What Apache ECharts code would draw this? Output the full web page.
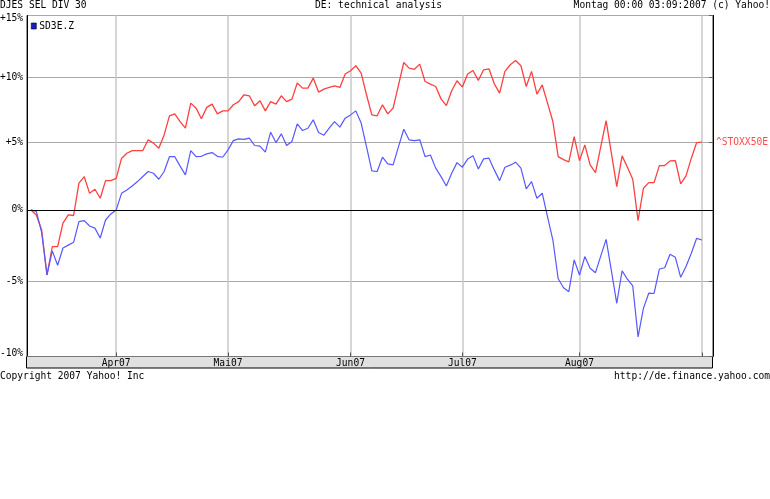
<!DOCTYPE html>
<html>
<head>
<meta charset="utf-8">
<script src="https://cdn.jsdelivr.net/npm/echarts@6/dist/echarts.min.js"></script>
<style>
html,body{margin:0;padding:0;background:#fff;}
#chart{width:770px;height:499px;}
</style>
</head>
<body>
<div id="chart"></div>
<script>
// Percent change vs. start, one value per trading day (2007-03-09 .. 2007-09-03)
const stoxx50e = [
  0, -0.36, -1.43, -4.57, -2.6, -2.6, -0.94, -0.35, -0.4, 1.94,
  2.42, 1.2, 1.5, 0.84, 2.13, 2.13, 2.3, 3.77, 4.16, 4.36,
  4.36, 4.36, 5.17, 4.92, 4.54, 5.54, 7.0, 7.15, 6.56, 6.05,
  7.98, 7.59, 6.77, 7.65, 7.9, 7.15, 7.38, 7.38, 7.85, 8.1,
  8.63, 8.55, 7.77, 8.16, 7.38, 8.1, 7.9, 8.55, 8.1, 8.29,
  9.55, 9.15, 9.15, 9.94, 8.84, 9.07, 9.2, 9.33, 9.2, 10.26,
  10.52, 10.92, 10.34, 8.63, 7.07, 7.0, 7.85, 7.15, 7.6, 9.36,
  11.18, 10.73, 10.64, 11.05, 9.67, 9.46, 9.28, 8.31, 7.79, 8.94,
  9.73, 9.23, 10.26, 10.54, 9.75, 10.6, 10.68, 9.49, 8.76, 10.47,
  11.0, 11.34, 10.92, 9.28, 10.47, 8.68, 9.4, 7.98, 6.56, 3.91,
  3.68, 3.52, 5.41, 3.6, 4.79, 3.29, 2.72, 4.66, 6.63, 4.13,
  1.69, 3.96, 3.12, 2.23, -0.77, 1.57, 1.98, 1.98, 3.24, 3.24,
  3.59, 3.6, 1.89, 2.48, 3.79, 4.96, 4.99
];
const sd3ez = [
  0, -0.1, -1.6, -4.57, -2.9, -3.9, -2.7, -2.5, -2.3, -0.84,
  -0.77, -1.15, -1.3, -2.0, -0.72, -0.29, 0, 1.2, 1.45, 1.74,
  2.06, 2.43, 2.8, 2.67, 2.23, 2.8, 3.9, 3.9, 3.2, 2.55,
  4.36, 3.9, 3.93, 4.11, 4.21, 3.93, 3.86, 4.41, 5.11, 5.24,
  5.2, 5.3, 4.74, 4.7, 4.24, 5.75, 4.96, 5.62, 4.74, 5.04,
  6.38, 5.87, 6.05, 6.69, 5.72, 5.52, 6.05, 6.56, 6.13, 6.82,
  7.07, 7.38, 6.44, 4.66, 2.85, 2.8, 3.86, 3.37, 3.29, 4.64,
  5.97, 5.17, 5.11, 5.17, 3.91, 4.03, 3.05, 2.42, 1.74, 2.67,
  3.46, 3.12, 3.72, 3.98, 2.99, 3.74, 3.79, 2.92, 2.13, 3.12,
  3.27, 3.49, 3.05, 1.52, 2.06, 0.84, 1.21, -0.5, -2.14, -4.83,
  -5.44, -5.71, -3.53, -4.57, -3.3, -4.11, -4.41, -3.25, -2.09, -4.31,
  -6.49, -4.29, -4.86, -5.32, -8.72, -6.83, -5.81, -5.83, -4.16, -4.07,
  -3.14, -3.35, -4.73, -3.99, -3.07, -2.02, -2.14
];
const pctTicks = [-10, -5, 0, 5, 10, 15];
const monthStartIdx = [16, 37, 60, 81, 103, 126];
const monthLabels = ['Apr07', 'Mai07', 'Jun07', 'Jul07', 'Aug07', ''];

const FONT = 'DejaVu Sans Mono';
const FS = 9.6;
const toLog = p => Math.log(1 + p / 100);
const fromLog = v => Math.round((Math.exp(v) - 1) * 100);
const pctLabel = v => { const p = fromLog(v); return (p > 0 ? '+' : '') + p + '%'; };
const yTickVals = pctTicks.map(toLog);

const chart = echarts.init(document.getElementById('chart'), null, {renderer: 'canvas'});
const txt = {fontFamily: FONT, fontSize: FS, color: '#000', fontWeight: 'normal'};

chart.setOption({
  animation: false,
  backgroundColor: '#fff',
  title: [
    {text: 'DJES SEL DIV 30', left: 0, top: 0, padding: 0, textStyle: txt},
    {text: 'DE: technical analysis', left: 315, top: 0, padding: 0, textStyle: txt},
    {text: 'Montag 00:00 03:09:2007 (c) Yahoo!', right: 0, top: 0, padding: 0, textStyle: txt},
    {text: 'Copyright 2007 Yahoo! Inc', left: 0, top: 371, padding: 0, textStyle: txt},
    {text: 'http://de.finance.yahoo.com', right: 0, top: 371, padding: 0, textStyle: txt}
  ],
  legend: {
    data: ['SD3E.Z'],
    left: 31, top: 21, padding: 0,
    icon: 'rect', itemWidth: 5, itemHeight: 6, itemGap: 2,
    itemStyle: {color: '#1a1ad0', borderColor: '#000', borderWidth: 0.6},
    textStyle: {fontFamily: FONT, fontSize: FS, color: '#000', padding: [0, 0, 0, -2]}
  },
  graphic: [
    {type: 'rect', z: 0, shape: {x: 26.5, y: 356.5, width: 686, height: 11.5},
     style: {fill: '#e0e0e0', stroke: '#000', lineWidth: 1}}
  ],
  grid: {left: 27, right: 57, top: 15.5, bottom: 142.5, show: true,
         outerBoundsMode: 'none', containLabel: false,
         borderColor: '#333', borderWidth: 1, backgroundColor: '#fff'},
  xAxis: {
    type: 'value', min: -0.751, max: 128.07,
    axisLine: {show: true, onZero: false, lineStyle: {color: '#777', width: 1}},
    axisTick: {show: true, inside: true, length: 4, customValues: monthStartIdx,
               lineStyle: {color: '#555'}},
    axisLabel: {show: true, customValues: monthStartIdx, margin: 1,
                fontFamily: FONT, fontSize: FS, color: '#000', lineHeight: 11,
                formatter: v => { const k = monthStartIdx.indexOf(Math.round(v)); return k >= 0 ? monthLabels[k] : ''; }},
    splitLine: {show: true, lineStyle: {color: '#c8c8c8', width: 1.5}}
  },
  yAxis: [
    {
      type: 'value', min: toLog(-10), max: toLog(15),
      axisLine: {show: true, onZero: false, lineStyle: {color: '#000', width: 1}},
      axisTick: {show: false, customValues: yTickVals},
      axisLabel: {customValues: yTickVals, formatter: pctLabel, margin: 4,
                  lineHeight: 6, verticalAlignMaxLabel: 'top', verticalAlignMinLabel: 'bottom',
                  fontFamily: FONT, fontSize: FS, color: '#000'},
      splitLine: {show: true, lineStyle: {color: '#aaa', width: 1}}
    },
    {
      type: 'value', position: 'right', min: toLog(-10), max: toLog(15),
      axisLine: {show: true, onZero: false, lineStyle: {color: '#000', width: 1}},
      axisTick: {show: true, inside: true, length: 4, customValues: yTickVals, lineStyle: {color: '#666'}},
      axisLabel: {show: false, customValues: yTickVals},
      splitLine: {show: false}
    }
  ],
  series: [
    {
      name: '^STOXX50E', type: 'line', showSymbol: false, symbol: 'none',
      data: stoxx50e.map((v, i) => [i, toLog(v)]),
      lineStyle: {color: '#ff4040', width: 1.3}, itemStyle: {color: '#ff4040'},
      z: 3,
      endLabel: {show: true, formatter: '^STOXX50E', distance: 14,
                 fontFamily: FONT, fontSize: FS, color: '#ff4a4a'},
      markLine: {silent: true, symbol: 'none', label: {show: false},
                 lineStyle: {color: '#000', width: 1, type: 'solid'},
                 data: [{yAxis: 0}]}
    },
    {
      name: 'SD3E.Z', type: 'line', showSymbol: false, symbol: 'none',
      data: sd3ez.map((v, i) => [i, toLog(v)]),
      lineStyle: {color: '#5858ff', width: 1.2}, itemStyle: {color: '#1a1ad0'},
      z: 4
    }
  ]
});
</script>
</body>
</html>
